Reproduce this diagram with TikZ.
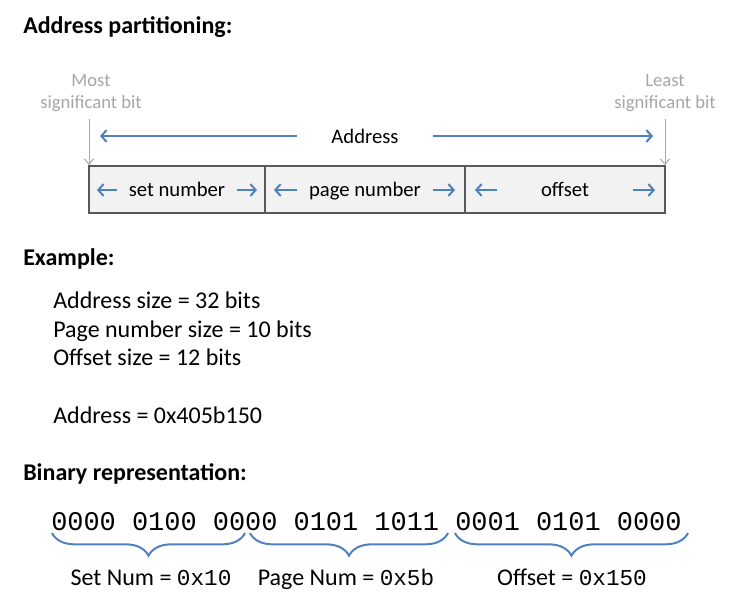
\documentclass[tikz,border=0pt]{standalone}
\usepackage{fontspec}
\setmainfont{Carlito}
\newfontfamily\monofont{Liberation Mono}
\usetikzlibrary{arrows.meta,decorations.pathreplacing}
\definecolor{blu}{HTML}{4F81BD}
\definecolor{gry}{HTML}{A6A6A6}
\definecolor{boxline}{HTML}{595959}
\definecolor{boxfill}{HTML}{F2F2F2}
\tikzset{
  txt/.style={inner sep=0pt, anchor=base west},
  heading/.style={txt, font=\fontsize{18}{22}\selectfont\bfseries},
  body/.style={txt, font=\fontsize{18}{22}\selectfont},
  graytxt/.style={inner sep=0pt, anchor=base, text=gry, font=\fontsize{14}{16.5}\selectfont},
  boxtxt/.style={inner sep=0pt, anchor=base, font=\fontsize{15.5}{18}\selectfont},
  lbl/.style={inner sep=0pt, anchor=base, font=\fontsize{18}{22}\selectfont},
  seg/.style={draw=boxline, fill=boxfill, line width=1.5pt},
  barrow/.style={draw=blu, line width=1.5pt, -{Straight Barb[length=4pt,width=9pt]}},
  garrow/.style={draw=gry, line width=0.75pt, -{Straight Barb[length=4pt,width=7pt]}},
  brc/.style={draw=blu, line width=1.5pt, decorate, decoration={brace, mirror, amplitude=17pt}},
}
\begin{document}
\begin{tikzpicture}[x=0.75pt,y=-0.75pt]
\useasboundingbox (0,0) rectangle (730,612);
% heading
\node[heading] (h1) at (23,33) {Address partitioning:};
% gray labels
\node[graytxt] (msb1) at (91,86) {Most};
\node[graytxt] (msb2) at (91,108) {significant bit};
\node[graytxt] (lsb1) at (665,86) {Least};
\node[graytxt] (lsb2) at (665,108) {significant bit};
% box
\coordinate (b0) at (89,166);
\coordinate (b1) at (265,213);
\coordinate (b2) at (265,166);
\coordinate (b3) at (465,213);
\coordinate (b4) at (465,166);
\coordinate (b5) at (665,213);
\draw[seg] (b0) rectangle (b1);
\draw[seg] (b2) rectangle (b3);
\draw[seg] (b4) rectangle (b5);
% gray arrows
\coordinate (g0) at (89,119);
\coordinate (g1) at (89,165);
\coordinate (g2) at (665,119);
\coordinate (g3) at (665,165);
\draw[garrow] (g0) -- (g1);
\draw[garrow] (g2) -- (g3);
% Address arrow
\node[boxtxt] (addr) at (365,143) {Address};
\coordinate (a0) at (297,136);
\coordinate (a1) at (100,136);
\coordinate (a2) at (433,136);
\coordinate (a3) at (653,136);
\draw[barrow] (a0) -- (a1);
\draw[barrow] (a2) -- (a3);
% box texts
\node[boxtxt] (setn) at (177,196) {set number};
\node[boxtxt] (pagen) at (365,196) {page number};
\node[boxtxt] (offs) at (565,196) {offset};
\coordinate (s0) at (117,190); \coordinate (s1) at (97,190);
\coordinate (s2) at (237,190); \coordinate (s3) at (257,190);
\coordinate (p0) at (297,190); \coordinate (p1) at (274,190);
\coordinate (p2) at (433,190); \coordinate (p3) at (455,190);
\coordinate (o0) at (497,190); \coordinate (o1) at (475,190);
\coordinate (o2) at (633,190); \coordinate (o3) at (655,190);
\draw[barrow] (s0) -- (s1);
\draw[barrow] (s2) -- (s3);
\draw[barrow] (p0) -- (p1);
\draw[barrow] (p2) -- (p3);
\draw[barrow] (o0) -- (o1);
\draw[barrow] (o2) -- (o3);
% Example
\node[heading] (h2) at (23,265) {Example:};
\node[body] (e1) at (53,308) {Address size = 32 bits};
\node[body] (e2) at (53,337) {Page number size = 10 bits};
\node[body] (e3) at (53,365) {Offset size = 12 bits};
\node[body] (e4) at (53,423) {Address = 0x405b150};
% Binary
\node[txt, font=\monofont\fontsize{20.2}{24}\selectfont] (bin) at (51,530) {0000 0100 0000 0101 1011 0001 0101 0000};
\node[heading] (h3) at (23,480) {Binary representation:};
\coordinate (c0) at (52,533); \coordinate (c1) at (245,533);
\coordinate (c2) at (250,533); \coordinate (c3) at (448,533);
\coordinate (c4) at (455,533); \coordinate (c5) at (688,533);
\draw[brc] (c0) -- (c1);
\draw[brc] (c2) -- (c3);
\draw[brc] (c4) -- (c5);
\node[lbl] (l1) at (151,585) {Set Num = {\monofont\fontsize{17}{20}\selectfont 0x10}};
\node[lbl] (l2) at (346,585) {Page Num = {\monofont\fontsize{17}{20}\selectfont 0x5b}};
\node[lbl] (l3) at (572,585) {Offset = {\monofont\fontsize{17}{20}\selectfont 0x150}};
\end{tikzpicture}
\end{document}
